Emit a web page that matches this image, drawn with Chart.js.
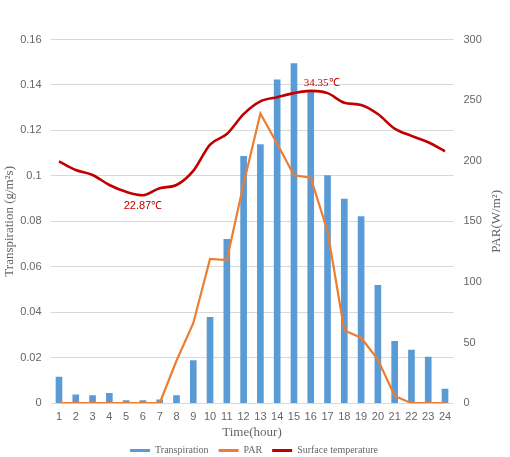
<!DOCTYPE html>
<html>
<head>
<meta charset="utf-8">
<script src="https://cdn.jsdelivr.net/npm/chart.js@4/dist/chart.umd.min.js"></script>
<style>
  html, body { margin: 0; padding: 0; background: #fff; }
  #wrap { width: 510px; height: 457px; }
</style>
</head>
<body>
<div id="wrap"><canvas id="hourly-graph"></canvas></div>
<script>

const hours = ['1', '2', '3', '4', '5', '6', '7', '8', '9', '10', '11', '12',
  '13', '14', '15', '16', '17', '18', '19', '20', '21', '22', '23', '24'];

const transpiration = [0.0115, 0.0037, 0.0034, 0.0043, 0.0012, 0.0012, 0.0015, 0.0034,
  0.0187, 0.0378, 0.0721, 0.1086, 0.1138, 0.1423, 0.1494, 0.1372,
  0.1001, 0.0898, 0.0821, 0.0518, 0.0272, 0.0234, 0.0203, 0.0062];

const par = [0, 0, 0, 0, 0, 0, 0, 35, 66, 119, 118, 181,
  239, 214, 188, 186, 142, 60, 54, 36, 6, 0, 0, 0];

const surfaceTemp = [26.6, 25.65, 25.1, 24.0, 23.25, 22.87, 23.65, 24.0,
  25.55, 28.45, 29.6, 31.8, 33.2, 33.65, 34.1, 34.35,
  34.1, 33.05, 32.8, 31.8, 30.2, 29.4, 28.7, 27.7];

const leftTicks = [0, 0.02, 0.04, 0.06, 0.08, 0.1, 0.12, 0.14, 0.16];
const rightTicks = [0, 50, 100, 150, 200, 250, 300];

const tickFont = { family: "'Liberation Sans', Arial, sans-serif", size: 11 };
const serif = "'Liberation Serif', 'Times New Roman', serif";
const grey = '#666';
const tempRed = '#C00000';

// min / max temperature labels + the right axis title (reads bottom to top)
const extras = {
  id: 'extras',
  afterDatasetsDraw(chart) {
    const ctx = chart.ctx;
    const x = chart.scales.x;
    const t = chart.scales.yTemp;
    const area = chart.chartArea;
    const lo = surfaceTemp.indexOf(Math.min(...surfaceTemp));
    const hi = surfaceTemp.indexOf(Math.max(...surfaceTemp));
    ctx.save();
    ctx.fillStyle = tempRed;
    ctx.textAlign = 'center';
    ctx.textBaseline = 'middle';
    ctx.font = "11px 'Liberation Sans', Arial, sans-serif";
    ctx.fillText(surfaceTemp[lo].toFixed(2) + '℃', x.getPixelForValue(lo), t.getPixelForValue(surfaceTemp[lo]) + 11);
    ctx.font = "11px " + serif;
    ctx.fillText(surfaceTemp[hi].toFixed(2) + '℃', x.getPixelForValue(hi) + 11, t.getPixelForValue(surfaceTemp[hi]) - 8);

    ctx.fillStyle = grey;
    ctx.font = "13px " + serif;
    ctx.translate(chart.scales.y1.right - 9, (area.top + area.bottom) / 2);
    ctx.rotate(-Math.PI / 2);
    ctx.fillText('PAR(W/m²)', 0, 0);
    ctx.restore();
  }
};

const hourlyChart = document.querySelector('#hourly-graph');

const hourlyData = {
  labels: hours,
  datasets: [{
    type: 'bar',
    label: 'Transpiration',
    data: transpiration,
    backgroundColor: '#5B9BD5',
    barThickness: 6,
    yAxisID: 'y',
    order: 3
  }, {
    type: 'line',
    label: 'PAR',
    data: par,
    borderColor: '#ED7D31',
    backgroundColor: '#ED7D31',
    borderWidth: 2.2,
    pointRadius: 0,
    tension: 0,
    yAxisID: 'y1',
    order: 2
  }, {
    type: 'line',
    label: 'Surface temperature',
    data: surfaceTemp,
    borderColor: tempRed,
    backgroundColor: tempRed,
    borderWidth: 2.6,
    pointRadius: 0,
    cubicInterpolationMode: 'monotone',
    yAxisID: 'yTemp',
    order: 1
  }]
};

const hourlyOptions = {
  responsive: true,
  maintainAspectRatio: false,
  animation: false,
  layout: {
    padding: { top: 39.5, left: 2, right: 4, bottom: -8.5 }
  },
  scales: {
    x: {
      grid: { display: false, drawTicks: false },
      border: { display: false },
      ticks: { color: grey, font: tickFont, padding: 7, maxRotation: 0, autoSkip: false },
      title: {
        display: true,
        text: 'Time(hour)',
        color: grey,
        font: { family: serif, size: 13 },
        padding: { top: 1, bottom: -4.5 }
      },
      afterFit: (axis) => { axis.height = 32.3; }
    },
    y: {
      position: 'left',
      min: 0,
      max: 0.16,
      afterBuildTicks: (axis) => { axis.ticks = leftTicks.map(v => ({ value: v })); },
      grid: { color: '#d9d9d9', drawTicks: false },
      border: { display: false },
      ticks: { color: grey, font: tickFont, padding: 9, callback: (v) => String(+v.toFixed(2)) },
      title: {
        display: true,
        text: 'Transpiration (g/m²s)',
        color: grey,
        font: { family: serif, size: 13 },
        padding: { top: 0, bottom: 8 }
      },
      afterFit: (axis) => { axis.width = 48.6; }
    },
    y1: {
      position: 'right',
      min: 0,
      max: 300,
      afterBuildTicks: (axis) => { axis.ticks = rightTicks.map(v => ({ value: v })); },
      grid: { display: false, drawTicks: false },
      border: { display: false },
      ticks: { color: grey, font: tickFont, padding: 10 },
      afterFit: (axis) => { axis.width = 52.6; }
    },
    yTemp: {
      display: false,
      min: 0,
      max: 40
    }
  },
  plugins: {
    legend: {
      position: 'bottom',
      labels: {
        boxWidth: 20,
        boxHeight: 3,
        padding: 10,
        color: grey,
        font: { family: serif, size: 10 },
        sort: (a, b) => a.datasetIndex - b.datasetIndex,
        generateLabels: (chart) => Chart.defaults.plugins.legend.labels.generateLabels(chart)
          .map(l => Object.assign(l, { lineWidth: 0 }))
      }
    },
    tooltip: { enabled: false }
  }
};

const hourlyComboChart = new Chart(hourlyChart, {
  data: hourlyData,
  options: hourlyOptions,
  plugins: [extras]
});

</script>
</body>
</html>
